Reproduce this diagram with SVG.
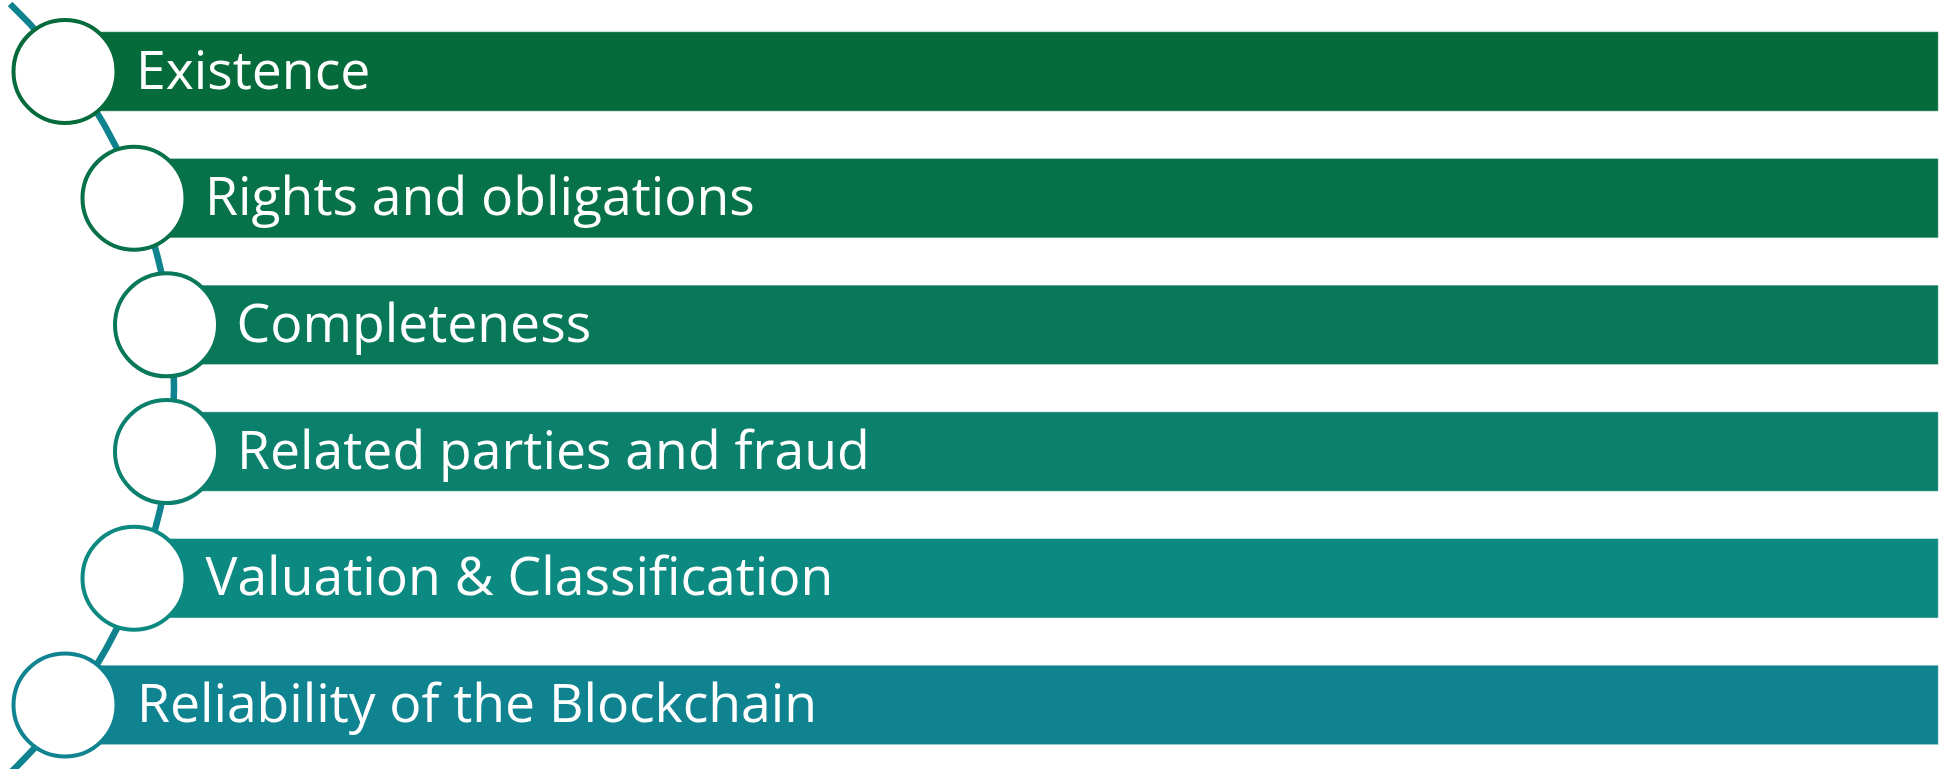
<svg xmlns="http://www.w3.org/2000/svg" width="1946" height="769" viewBox="0 0 1946 769">
  <style>
    .bar { stroke: #ffffff; stroke-opacity: 0.45; stroke-width: 1; }
    .ring { fill: #ffffff; stroke-width: 4; }
    .label { font-family: "Open Sans", "Liberation Sans", sans-serif; font-size: 53.5px; fill: #ffffff; }
    .spine { fill: none; stroke: #0f8290; stroke-width: 6.5; }
  </style>
  <rect width="1946" height="769" fill="#ffffff"/>

  <!-- curved spine running behind the circles -->
  <g id="connectors">
    <path class="spine" d="M 10.1 4 A 533 533 0 0 1 10.1 773"/>
  </g>

  <g id="node-existence">
    <rect class="bar" x="65" y="31.7" width="1873.3" height="79.5" fill="#066b3a"/>
    <circle class="ring" cx="65" cy="71.45" r="51.5" stroke="#066b3a"/>
    <text class="label" x="136" y="88.5">Existence</text>
  </g>

  <g id="node-rights">
    <rect class="bar" x="134" y="158.4" width="1804.3" height="79.5" fill="#077149"/>
    <circle class="ring" cx="134" cy="198.15" r="51.5" stroke="#077149"/>
    <text class="label" x="205" y="215.2">Rights and obligations</text>
  </g>

  <g id="node-completeness">
    <rect class="bar" x="166.5" y="285.1" width="1771.8" height="79.5" fill="#087859"/>
    <circle class="ring" cx="166.5" cy="324.85" r="51.5" stroke="#087859"/>
    <text class="label" x="236.5" y="341.9">Completeness</text>
  </g>

  <g id="node-related-parties">
    <rect class="bar" x="166.5" y="411.8" width="1771.8" height="79.5" fill="#0b806c"/>
    <circle class="ring" cx="166.5" cy="451.55" r="51.5" stroke="#0b806c"/>
    <text class="label" x="237" y="468.6">Related parties and fraud</text>
  </g>

  <g id="node-valuation">
    <rect class="bar" x="134" y="538.5" width="1804.3" height="79.5" fill="#0c8980"/>
    <circle class="ring" cx="134" cy="578.25" r="51.5" stroke="#0c8980"/>
    <text class="label" x="205.5" y="595.3">Valuation &amp; Classification</text>
  </g>

  <g id="node-reliability">
    <rect class="bar" x="65" y="665.2" width="1873.3" height="79.5" fill="#0f8390"/>
    <circle class="ring" cx="65" cy="704.95" r="51.5" stroke="#0f8390"/>
    <text class="label" x="137" y="722" textLength="680" lengthAdjust="spacing">Reliability of the Blockchain</text>
  </g>
</svg>
